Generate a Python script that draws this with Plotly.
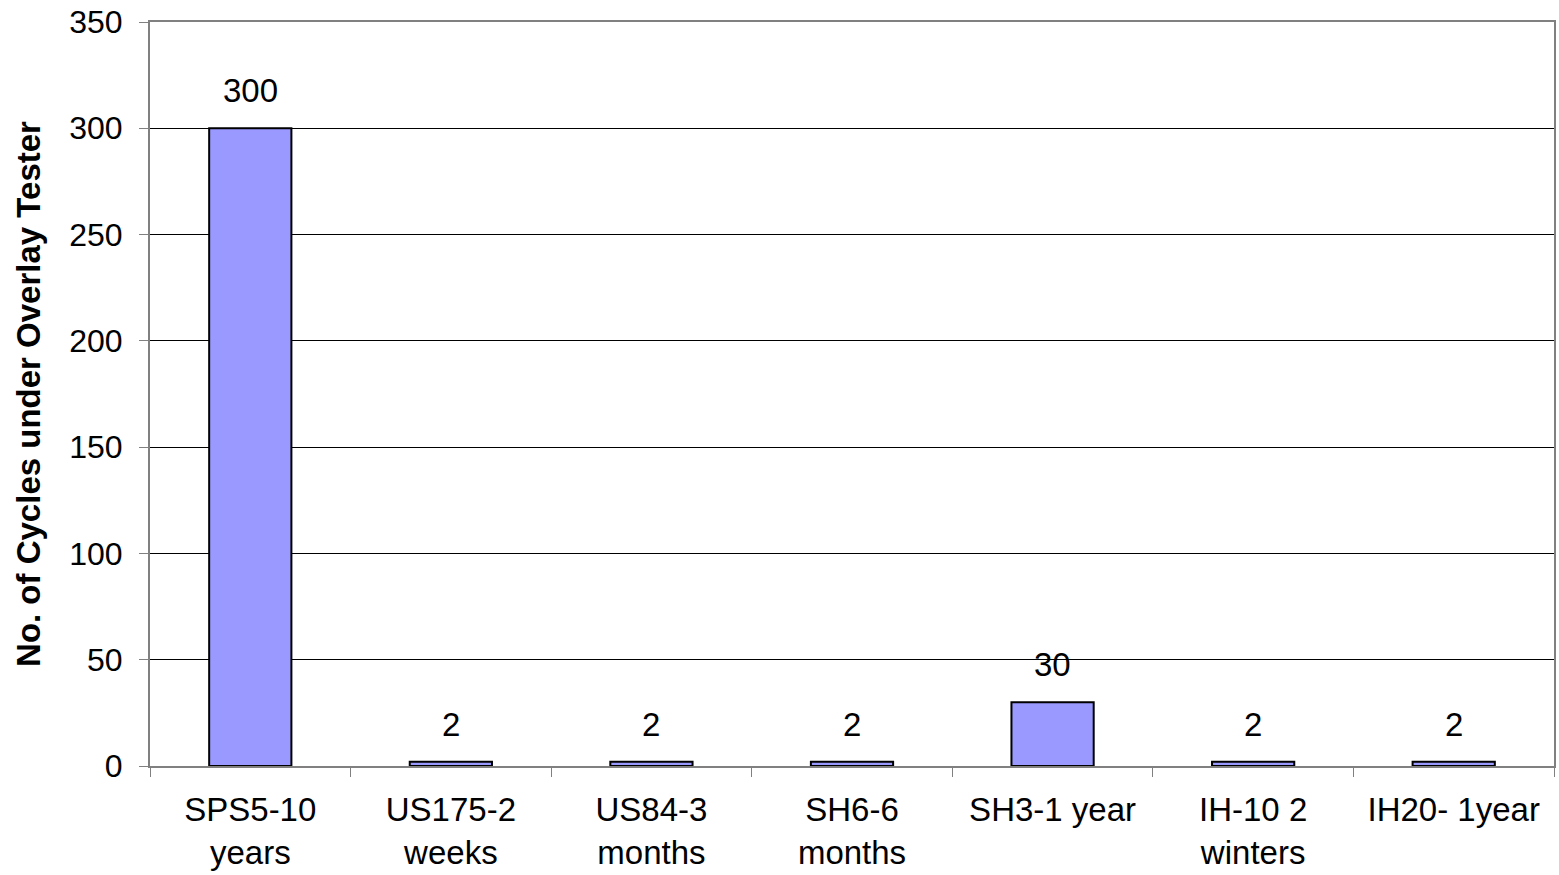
import plotly.graph_objects as go

# Field sections and their service life label
categories = [
    "SPS5-10<br>years",
    "US175-2<br>weeks",
    "US84-3<br>months",
    "SH6-6<br>months",
    "SH3-1 year",
    "IH-10 2<br>winters",
    "IH20- 1year",
]
# Overlay Tester cycles to failure
cycles = [300, 2, 2, 2, 30, 2, 2]

y_ticks = [0, 50, 100, 150, 200, 250, 300, 350]

FONT = "Liberation Sans, Arial, sans-serif"

fig = go.Figure()
fig.add_trace(
    go.Bar(
        x=categories,
        y=cycles,
        width=0.41,
        marker=dict(color="#9999FF", line=dict(color="black", width=2)),
        hoverinfo="x+y",
    )
)

# Value labels above each bar
for cat, val in zip(categories, cycles):
    fig.add_annotation(
        x=cat,
        y=val,
        text=str(val),
        showarrow=False,
        yanchor="bottom",
        yshift=17,
        font=dict(family=FONT, size=33, color="black"),
    )

fig.update_layout(
    width=1559,
    height=875,
    margin=dict(l=150, r=3, t=22, b=109),
    paper_bgcolor="white",
    plot_bgcolor="white",
    showlegend=False,
    font=dict(family=FONT, size=33, color="black"),
    bargap=0.59,
)

fig.update_xaxes(
    type="category",
    automargin=False,
    tickson="boundaries",
    ticks="outside",
    ticklen=9,
    tickwidth=1,
    tickcolor="#808080",
    ticklabelstandoff=13,
    showline=True,
    linecolor="#808080",
    linewidth=2,
    mirror=True,
    showgrid=False,
    tickfont=dict(family=FONT, size=33, color="black"),
)

fig.update_yaxes(
    range=[0, 350],
    tickvals=y_ticks,
    ticks="outside",
    ticklen=9,
    tickwidth=1,
    tickcolor="#808080",
    ticklabelstandoff=10,
    showline=True,
    linecolor="#808080",
    linewidth=2,
    mirror=True,
    showgrid=True,
    gridcolor="black",
    gridwidth=1,
    zeroline=False,
    tickfont=dict(family=FONT, size=32, color="black"),
    title=dict(
        text="<b>No. of Cycles under Overlay Tester</b>",
        font=dict(family=FONT, size=33, color="black"),
        standoff=19,
    ),
)

fig.write_html("out.html")
